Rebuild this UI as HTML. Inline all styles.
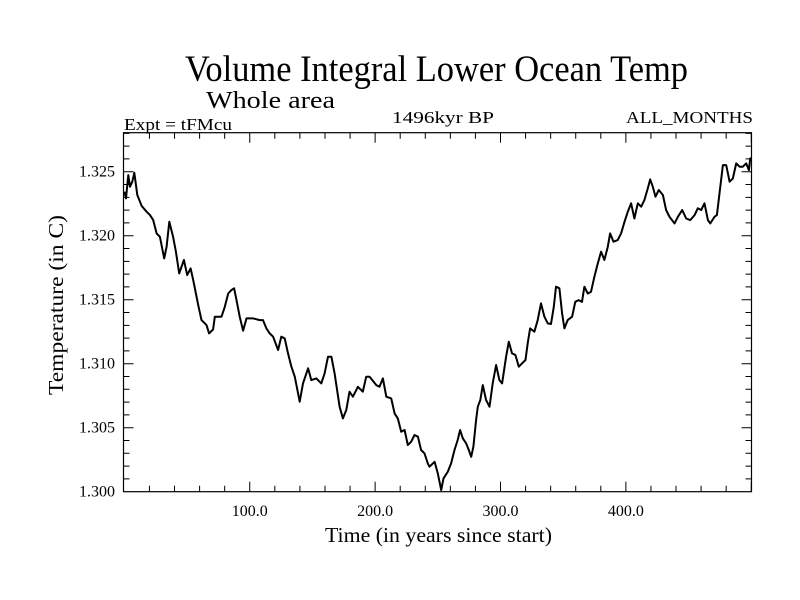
<!DOCTYPE html>
<html><head><meta charset="utf-8"><style>
html,body{margin:0;padding:0;background:#fff;}
svg{display:block;font-family:"Liberation Serif",serif;}
</style></head><body>
<svg id="chart" width="800" height="600" viewBox="0 0 800 600">
<text x="185" y="81" font-size="37" textLength="503" lengthAdjust="spacingAndGlyphs">Volume Integral Lower Ocean Temp</text>
<text x="206" y="108" font-size="24" textLength="129" lengthAdjust="spacingAndGlyphs">Whole area</text>
<text x="124" y="130" font-size="17" textLength="108" lengthAdjust="spacingAndGlyphs">Expt = tFMcu</text>
<text x="392" y="123" font-size="17" textLength="102" lengthAdjust="spacingAndGlyphs">1496kyr BP</text>
<text x="626" y="123" font-size="17" textLength="127" lengthAdjust="spacingAndGlyphs">ALL_MONTHS</text>
<text x="325" y="542" font-size="21" textLength="227" lengthAdjust="spacingAndGlyphs">Time (in years since start)</text>
<text transform="translate(63,305) rotate(-90)" font-size="21" text-anchor="middle" textLength="180" lengthAdjust="spacingAndGlyphs">Temperature (in C)</text>
<g id="axes"></g>
<path id="series" fill="none" stroke="#000" stroke-width="2" stroke-linejoin="round"/>
</svg>
<script>
const xTickValues=[100,200,300,400];
const xTickLabels=["100.0","200.0","300.0","400.0"];
const yTickValues=[1.300,1.305,1.310,1.315,1.320,1.325];
const yTickLabels=["1.300","1.305","1.310","1.315","1.320","1.325"];
const years=[0,1.3,3.1,4.5,6.3,7.9,10.3,13.8,17.7,20.4,23,25.7,28.3,31.8,33.7,35.8,38.9,41.1,43.7,47.5,50.1,52.8,54.9,58.9,61.5,65.5,67.6,70.8,72.1,77.5,80.1,82.8,85.4,87.5,89.4,92,94.7,97.4,102.7,108,110.6,113.3,115.9,118.6,122.6,125.2,127.9,130.5,133.2,135.9,139.8,142.5,146.5,149.1,153.1,157.1,159.7,162.4,165.1,167.7,171.7,174.3,177,179.6,182.3,186.3,190.2,192.9,195.6,200.9,203.5,206.2,208.9,212.8,215.5,218.1,220.8,223.5,226.1,228.8,231.4,234.1,236.7,239.4,242,243.4,
247.4,250,252.7,254.5,258,260.6,263.3,265.9,267.8,269.9,272.6,274.7,276.6,278.4,280.5,281.9,283.9,285.9,288.5,291.2,293.8,296.5,299.1,301.3,304.5,306.6,309.2,311.9,314.6,317.2,319.9,321.7,323.6,327,329.7,332.3,335,337.7,340.3,342.5,344.3,347,349.1,351,353.6,357.1,359.7,362.4,365,366.9,369.6,372.2,374.9,377.6,380.2,382.9,385.6,387.4,390.1,393.5,396.2,398.9,401.5,404.2,406.8,409.5,412.2,414.8,417.5,419.4,421.5,423.6,426.3,429.5,432.1,434.8,438.8,441.5,444.9,448.1,451.3,454.8,457.4,460.1,462.7,465.4,467.3,470.7,472.6,474.7,477.4,480,482.7,485.4,488,490.7,493.3,496,498.1,499.2,500];
const temps=[1.32344,1.32292,1.32474,1.32383,1.32422,1.32492,1.32318,1.32232,1.32188,1.32161,1.32122,1.32018,1.31992,1.31823,1.31914,1.32109,1.31992,1.31875,1.31706,1.31810,1.31693,1.31745,1.31654,1.31458,1.31341,1.31302,1.31237,1.31268,1.31367,1.31367,1.31445,1.31549,1.31575,1.31589,1.31497,1.31367,1.31258,1.31354,1.31354,1.31341,1.31341,1.31276,1.31237,1.31211,1.31107,1.31211,1.31198,1.31081,1.30977,1.30898,1.30703,1.30846,1.30964,1.30872,1.30885,1.30846,1.30924,1.31055,1.31055,1.30924,1.30664,1.30573,1.30638,1.30781,1.30742,1.30820,1.30781,1.30898,1.30898,1.30833,1.30820,1.30885,1.30742,1.30729,1.30612,1.30573,1.30469,1.30482,1.30365,1.30391,1.30443,1.30430,1.30326,1.30299,1.30221,1.30195,
1.30234,1.30143,1.30013,1.30104,1.30156,1.30221,1.30326,1.30404,1.30482,1.30417,1.30378,1.30326,1.30273,1.30352,1.30560,1.30664,1.30716,1.30833,1.30716,1.30664,1.30846,1.30990,1.30872,1.30846,1.31055,1.31172,1.31081,1.31068,1.30977,1.31003,1.31029,1.31159,1.31276,1.31250,1.31341,1.31471,1.31367,1.31315,1.31310,1.31445,1.31602,1.31589,1.31393,1.31276,1.31341,1.31367,1.31484,1.31497,1.31484,1.31602,1.31549,1.31562,1.31680,1.31784,1.31875,1.31810,1.31914,1.32018,1.31953,1.31966,1.32018,1.32109,1.32188,1.32253,1.32135,1.32253,1.32227,1.32279,1.32370,1.32440,1.32383,1.32305,1.32357,1.32318,1.32201,1.32148,1.32096,1.32148,1.32201,1.32135,1.32122,1.32161,1.32214,1.32201,1.32253,1.32122,1.32096,1.32148,1.32161,1.32331,1.32552,1.32552,1.32422,1.32448,1.32565,1.32539,1.32539,1.32565,1.32513,1.32604,1.32604];

const X0=123.5,X1=751.5,Y0=491.7,Y1=132.7;
const xMin=-0.7,xMax=500.2,yMin=1.300,yMax=1.32805;
const sx=v=>X0+(v-xMin)/(xMax-xMin)*(X1-X0);
const sy=v=>Y0-(v-yMin)/(yMax-yMin)*(Y0-Y1);
const NS="http://www.w3.org/2000/svg";
const axes=document.getElementById('axes');
function mk(tag,attrs){const e=document.createElementNS(NS,tag);for(const k in attrs)e.setAttribute(k,attrs[k]);axes.appendChild(e);return e;}
const frame=mk('rect',{x:X0,y:Y1,width:X1-X0,height:Y0-Y1,fill:'none',stroke:'#000','stroke-width':1.2});


let d='';
for(let v=20;v<xMax;v+=20){const x=sx(v);const L=(v%100===0)?10:6;d+=`M${x},${Y0}v${-L}M${x},${Y1}v${L}`;}
for(let i=1;i<=28;i++){const v=yMin+i*0.001;const y=sy(v);const L=(i%5===0)?10:6;d+=`M${X0},${y}h${L}M${X1},${y}h${-L}`;}
const ticks=mk('path',{d:d,stroke:'#000','stroke-width':1,fill:'none'});


xTickValues.forEach((v,i)=>{const t=mk('text',{x:sx(v),y:516,'font-size':16,'text-anchor':'middle'});t.textContent=xTickLabels[i];

});
yTickValues.forEach((v,i)=>{const t=mk('text',{x:115,y:sy(v)+5,'font-size':16,'text-anchor':'end'});t.textContent=yTickLabels[i];

});
document.getElementById('series').setAttribute('d',years.map((v,i)=>(i?'L':'M')+sx(v).toFixed(1)+','+sy(temps[i]).toFixed(1)).join(''));
</script>
</body></html>
